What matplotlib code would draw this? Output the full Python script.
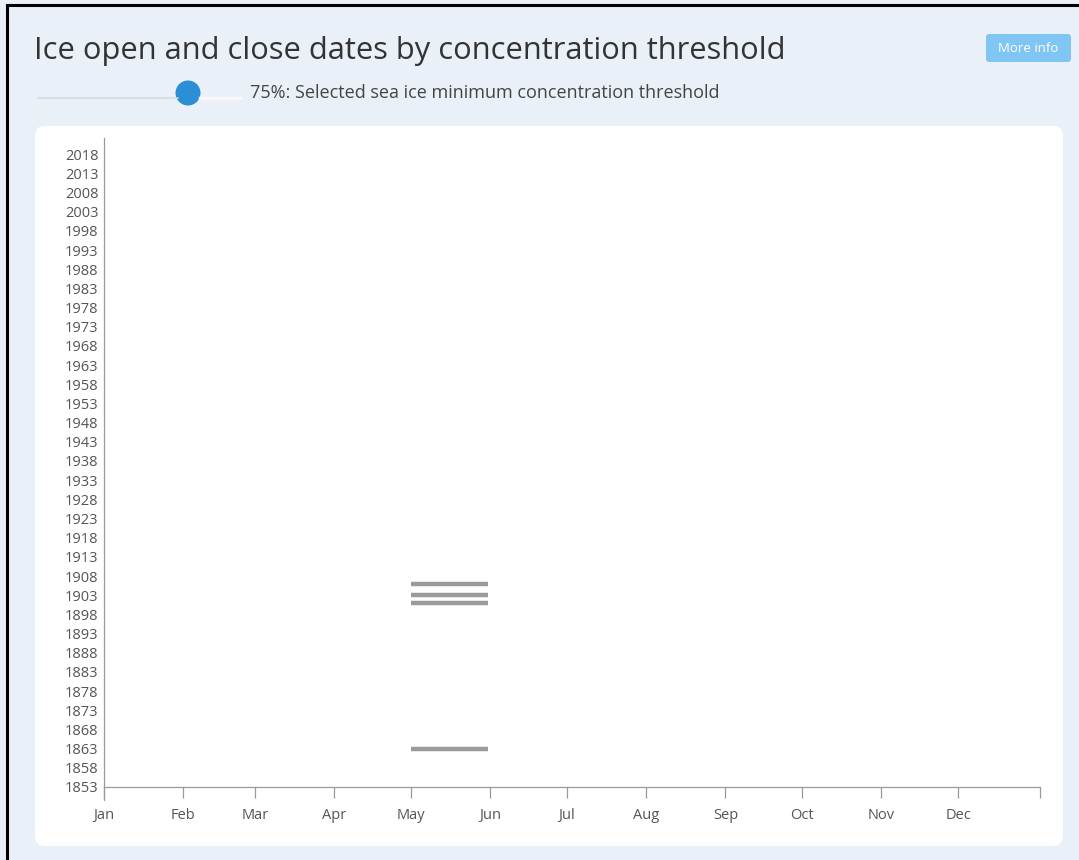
import matplotlib
matplotlib.use("Agg")
import matplotlib.pyplot as plt
from matplotlib.patches import FancyBboxPatch, Circle

# data: years with an open/close event at the 75% threshold, day of year (0 = Jan 1)
years = [1863, 1901, 1903, 1906]
open_day = [120, 120, 120, 120]
close_day = [150, 150, 150, 150]

month_names = ["Jan", "Feb", "Mar", "Apr", "May", "Jun",
               "Jul", "Aug", "Sep", "Oct", "Nov", "Dec"]
month_starts = [0, 31, 59, 90, 120, 151, 181, 212, 243, 273, 304, 334]
year_ticks = list(range(1853, 2019, 5))

W, H = 1079, 860
fig = plt.figure(figsize=(W / 100, H / 100), dpi=100)
fig.patch.set_facecolor("#eaf0f7")

# page decorations in pixel coordinates
bg = fig.add_axes([0, 0, 1, 1])
bg.set_xlim(0, W)
bg.set_ylim(H, 0)
bg.axis("off")
bg.plot([7, 7], [5, H], color="black", lw=2.2)
bg.plot([7, W], [5, 5], color="black", lw=2.2)
bg.add_patch(FancyBboxPatch((35, 126), 1028, 720, boxstyle="round,pad=0,rounding_size=10",
                            fc="white", ec="none"))
bg.text(34, 51, "Ice open and close dates by concentration threshold",
        fontsize=22.2, family="Open Sans", color="#333333", va="center")
bg.plot([38, 178], [98, 98], color="#d8d8d8", lw=1.2, solid_capstyle="round")
bg.plot([200, 240], [98, 98], color="#f6f8fb", lw=2.5)
bg.add_patch(Circle((188, 93), 12.5, fc="#2a8fd4", ec="none"))
bg.text(250, 93, "75%: Selected sea ice minimum concentration threshold",
        fontsize=13, family="Open Sans", color="#444444", va="center")
bg.add_patch(FancyBboxPatch((986, 34), 85, 28, boxstyle="round,pad=0,rounding_size=3",
                            fc="#80c6f5", ec="none"))
bg.text(1028, 48, "More info", fontsize=9.5, family="Open Sans", color="white",
        ha="center", va="center")

# chart axes: x = day of year, y = year
left, right, top, bottom = 104, 1040, 138, 787
ax = fig.add_axes([left / W, 1 - bottom / H, (right - left) / W, (bottom - top) / H])
ax.set_facecolor("none")
for y, a, b in zip(years, open_day, close_day):
    ax.plot([a, b], [y, y], color="#9a9a9a", lw=3.2, solid_capstyle="butt")

ax.set_xlim(0, 366)
ax.set_ylim(1853, 2022.2)
ax.set_xticks(month_starts + [366])
ax.set_xticklabels(month_names + [""])
ax.set_yticks(year_ticks)
ax.set_yticklabels([str(y) for y in year_ticks])
for s in ["top", "right"]:
    ax.spines[s].set_visible(False)
for s in ["left", "bottom"]:
    ax.spines[s].set_color("#999999")
    ax.spines[s].set_linewidth(0.9)
ax.spines["left"].set_bounds(1853 - 3.5, 2022.2)
ax.tick_params(axis="x", length=8, width=0.9, color="#999999", labelsize=10.5,
               labelcolor="#555555", pad=7)
ax.tick_params(axis="y", length=0, labelsize=10.5, labelcolor="#555555", pad=4)
for lab in ax.get_xticklabels() + ax.get_yticklabels():
    lab.set_family("Open Sans")
ax.spines["left"].set_clip_on(False)

fig.savefig("out.png", dpi=100, facecolor=fig.get_facecolor())
